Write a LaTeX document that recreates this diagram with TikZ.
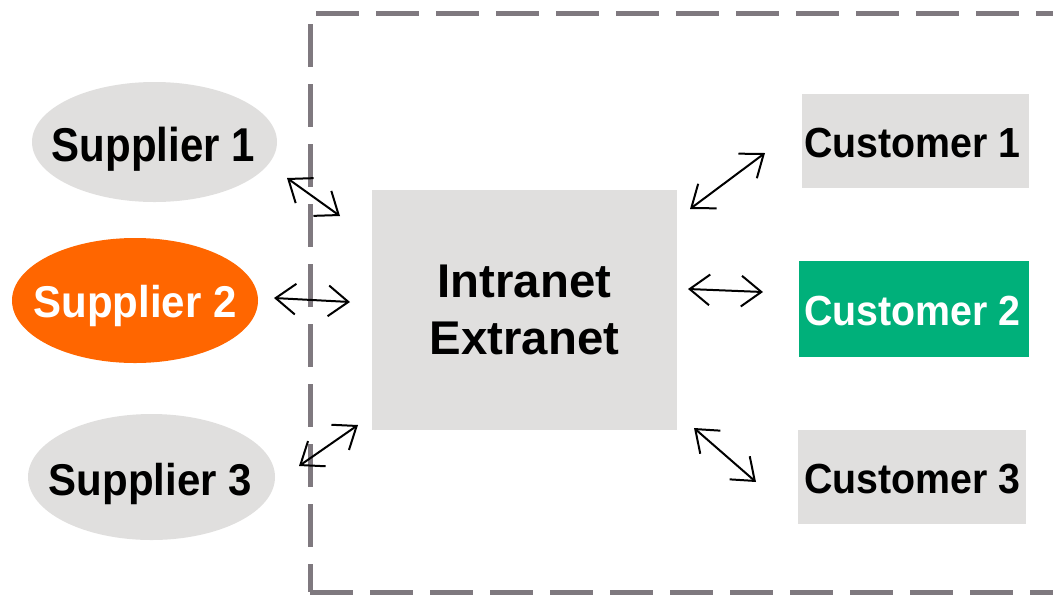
\documentclass[tikz,border=0pt]{standalone}
\usepackage{graphicx}
\usepackage{fontspec}
\setmainfont{Liberation Sans}
\usetikzlibrary{shapes.geometric,arrows.meta}
\definecolor{boxgrey}{RGB}{224,223,222}
\definecolor{suporange}{RGB}{255,102,0}
\definecolor{custgreen}{RGB}{0,176,122}
\definecolor{framegrey}{RGB}{127,121,127}
\newcommand{\talltext}[2][1.06]{\scalebox{1}[#1]{#2}}
\tikzset{
  oval/.style={ellipse, fill=boxgrey, inner sep=0pt},
  custbox/.style={rectangle, fill=boxgrey, inner sep=0pt},
  suptext/.style={anchor=base, inner sep=0pt, font=\fontsize{31.5}{36}\selectfont\bfseries},
  custtext/.style={anchor=base, inner sep=0pt, font=\fontsize{29.5}{34}\selectfont\bfseries},
  hubbox/.style={rectangle, fill=boxgrey, inner sep=0pt, minimum width=229pt, minimum height=180pt,
    align=center, font=\fontsize{35.5}{43}\selectfont\bfseries},
  frameline/.style={draw=framegrey, line width=3.75pt, line cap=butt, dash pattern=on 32.25pt off 12.75pt},
  link/.style={line width=1.5pt, {Straight Barb[length=15pt,width=23pt]}-{Straight Barb[length=15pt,width=23pt]}}
}
\begin{document}
\begin{tikzpicture}[x=0.75pt,y=-0.75pt]
  \useasboundingbox (0,0) rectangle (1053,594);
  \clip (0,0) rectangle (1053,594);

  % dashed enterprise boundary
  \draw[frameline] (316,13) -- (1090,13);
  \draw[frameline] (310,24) -- (310,592);
  \draw[frameline] (310,592) -- (1090,592);

  % suppliers
  \node[oval, minimum width=183.75pt, minimum height=90pt] (s1) at (154.5,142) {};
  \node[oval, fill=suporange, minimum width=184.5pt, minimum height=93.75pt] (s2) at (135,300.5) {};
  \node[oval, minimum width=185.25pt, minimum height=94.5pt] (s3) at (151.5,477) {};
  \node[suptext] (s1t) at (153.5,161) {\talltext[1.13]{Supplier 1}};
  \node[suptext, text=white] (s2t) at (135,317) {\talltext{Supplier 2}};
  \node[suptext] (s3t) at (150.5,495) {\talltext{Supplier 3}};

  % central hub
  \node[hubbox] (hub) at (524.5,310) {Intranet\\Extranet};

  % customers
  \node[custbox, minimum width=170.25pt, minimum height=70.5pt] (c1) at (915.5,141) {};
  \node[custbox, fill=custgreen, minimum width=172.5pt, minimum height=72pt] (c2) at (914,309) {};
  \node[custbox, minimum width=171pt, minimum height=70.5pt] (c3) at (912,477) {};
  \node[custtext] (c1t) at (912.5,157) {\talltext[1.07]{Customer 1}};
  \node[custtext, text=white] (c2t) at (912.5,325) {\talltext[1.07]{Customer 2}};
  \node[custtext] (c3t) at (912.5,493) {\talltext[1.07]{Customer 3}};

  % connector end points
  \coordinate (s1a) at (287,178);  \coordinate (s1b) at (340,216);
  \coordinate (s2a) at (274,298);  \coordinate (s2b) at (350,302);
  \coordinate (s3a) at (299,466);  \coordinate (s3b) at (358,425);
  \coordinate (c1a) at (690,209);  \coordinate (c1b) at (765,153);
  \coordinate (c2a) at (688,289);  \coordinate (c2b) at (763,292);
  \coordinate (c3a) at (694,428);  \coordinate (c3b) at (756,482);

  \draw[link] (s1a) -- (s1b);
  \draw[link] (s2a) -- (s2b);
  \draw[link] (s3a) -- (s3b);
  \draw[link] (c1a) -- (c1b);
  \draw[link] (c2a) -- (c2b);
  \draw[link] (c3a) -- (c3b);
\end{tikzpicture}
\end{document}
